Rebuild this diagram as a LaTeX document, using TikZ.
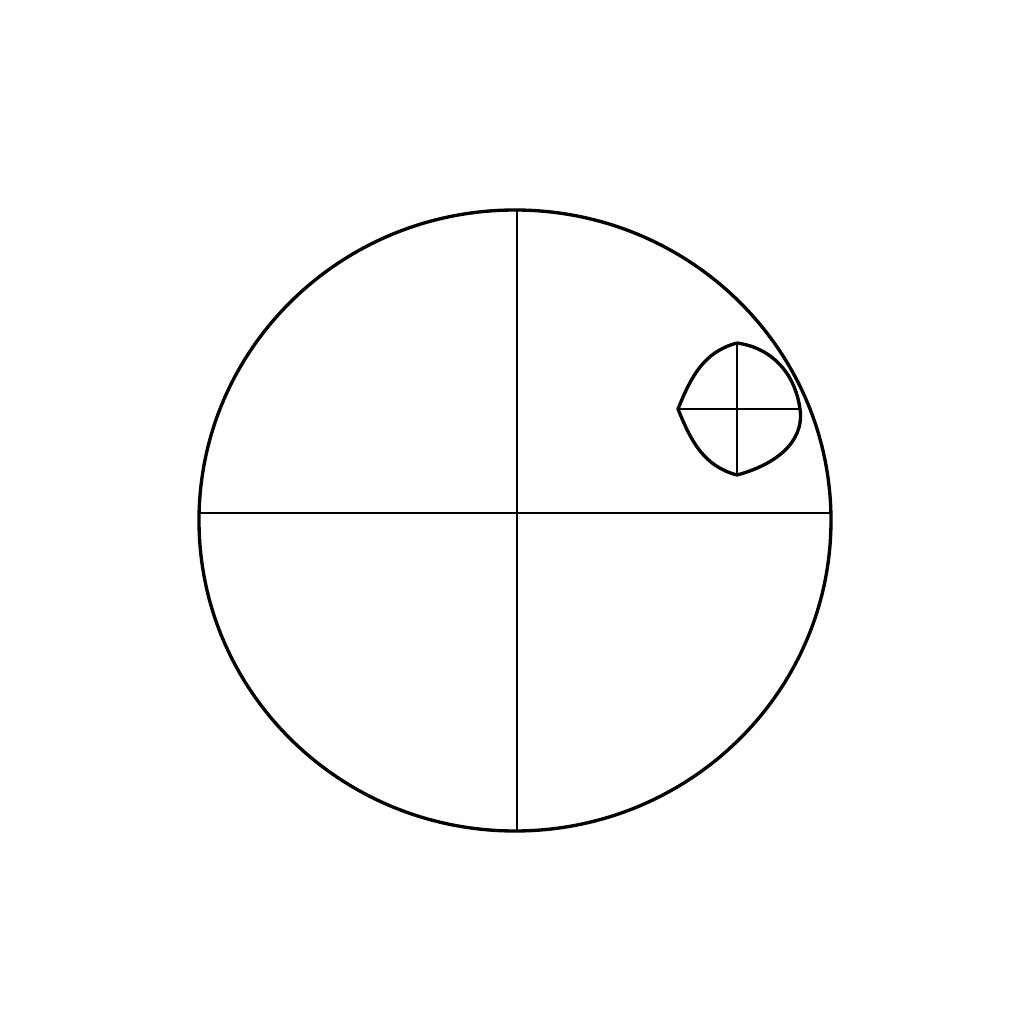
\documentclass[tikz,border=0pt]{standalone}
\usepackage{tikz}
\usetikzlibrary{positioning, calc}

\begin{document}
\begin{tikzpicture}[
    outline/.style={draw=black, line width=0.95pt},
    cross/.style={draw=black, line width=0.85pt}
]
\useasboundingbox[fill=white] (0,0) rectangle (10.24,10.24);

% Big disc with its quarters
\coordinate (centre) at (5.15,5.035);
\draw[outline] (centre) ellipse [x radius=3.16, y radius=3.105];
\coordinate (west) at (1.99,5.11);
\coordinate (east) at (8.31,5.11);
\coordinate (north) at (5.17,8.14);
\coordinate (south) at (5.17,1.93);
\draw[cross] (west) -- (east);
\draw[cross] (north) -- (south);

% Small rounded diamond
\coordinate (top) at (7.37,6.81);
\coordinate (right) at (8.00,6.15);
\coordinate (bottom) at (7.37,5.49);
\coordinate (left) at (6.78,6.15);
\draw[outline] (top) to[out=-8, in=98] (right)
    to[out=-82, in=15] (bottom)
    to[out=165, in=-68] (left)
    to[out=68, in=-165] (top);
\draw[cross] (left) -- (right);
\draw[cross] (top) -- (bottom);
\end{tikzpicture}
\end{document}
